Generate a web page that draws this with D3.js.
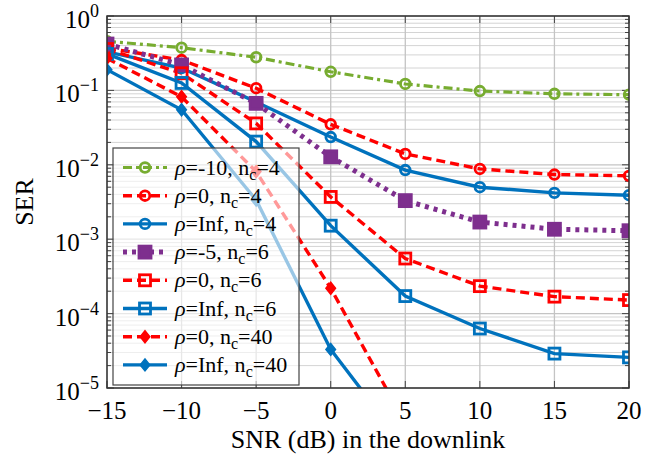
<!DOCTYPE html>
<html><head><meta charset="utf-8">
<script src="https://cdn.jsdelivr.net/npm/d3@7"></script>
<style>body{margin:0;background:#fff}svg{display:block}text{font-family:"Liberation Serif","Times New Roman",serif}</style>
</head><body><svg id="c" width="657" height="460"></svg>
<script>
const snr = [-15, -10, -5, 0, 5, 10, 15, 20];
const serRhoM10Nc4 = [0.457, 0.375, 0.279, 0.178, 0.122, 0.098, 0.090, 0.0875];
const serRho0Nc4   = [0.37, 0.256, 0.107, 0.035, 0.014, 0.0088, 0.0074, 0.0071];
const serRhoInfNc4 = [0.33, 0.20, 0.070, 0.0236, 0.0085, 0.0050, 0.0042, 0.0039];
const serRhoM5Nc6  = [0.42, 0.22, 0.067, 0.0128, 0.0033, 0.0017, 0.00136, 0.0013];
const serRho0Nc6   = [0.36, 0.17, 0.036, 0.0037, 0.00055, 0.000234, 0.000169, 0.000152];
const serRhoInfNc6 = [0.31, 0.126, 0.0205, 0.00152, 0.000172, 0.000063, 0.000029, 0.0000258];
const serRho0Nc40  = [0.27, 0.082, 0.0081, 0.000219, 0.0000034];
const serRhoInfNc40= [0.19, 0.055, 0.00336, 0.000033, 0.0000016];
const xTicks = [-15, -10, -5, 0, 5, 10, 15, 20];
const yTickExps = [0, -1, -2, -3, -4, -5];
const legendRho = ["-10", "0", "Inf", "-5", "0", "Inf", "0", "Inf"];
const legendNc = ["4", "4", "4", "6", "6", "6", "40", "40"];

const series = [
  {y: serRhoM10Nc4, color: "#77AC30", dash: "9,4,3,4", w: 3.2, mark: "circle", fill: "none"},
  {y: serRho0Nc4, color: "#FF0000", dash: "9,5", w: 3.4, mark: "circle", fill: "none"},
  {y: serRhoInfNc4, color: "#0072BD", dash: null, w: 3.4, mark: "circle", fill: "none"},
  {y: serRhoM5Nc6, color: "#7E2F8E", dash: "4,5", w: 5, mark: "square", fill: "#7E2F8E"},
  {y: serRho0Nc6, color: "#FF0000", dash: "9,5", w: 3.4, mark: "square", fill: "none"},
  {y: serRhoInfNc6, color: "#0072BD", dash: null, w: 3.4, mark: "square", fill: "none"},
  {y: serRho0Nc40, color: "#FF0000", dash: "9,5", w: 3.4, mark: "diamond", fill: "#FF0000"},
  {y: serRhoInfNc40, color: "#0072BD", dash: null, w: 3.4, mark: "diamond", fill: "#0072BD"}
];

const W = 657, H = 460;
const m = {l: 107, r: 28, t: 16, b: 72};
const svg = d3.select("#c");
const x = d3.scaleLinear().domain([-15, 20]).range([m.l, W - m.r]);
const y = d3.scaleLog().domain([1e-5, 1]).range([H - m.b, m.t]);

svg.append("defs").append("clipPath").attr("id", "clip")
  .append("rect").attr("x", m.l).attr("y", m.t).attr("width", W - m.l - m.r).attr("height", H - m.t - m.b);

// grid
const g = svg.append("g");
const minor = [];
for (let e = -5; e < 0; e++) for (let k = 2; k <= 9; k++) minor.push(k * Math.pow(10, e));
g.selectAll(".mn").data(minor).enter().append("line")
  .attr("x1", m.l).attr("x2", W - m.r).attr("y1", d => y(d)).attr("y2", d => y(d))
  .attr("stroke", "#d4d4d4").attr("stroke-width", 1);
g.selectAll(".mj").data(yTickExps).enter().append("line")
  .attr("x1", m.l).attr("x2", W - m.r).attr("y1", d => y(Math.pow(10, d))).attr("y2", d => y(Math.pow(10, d)))
  .attr("stroke", "#c4c4c4").attr("stroke-width", 1.3);
g.selectAll(".vx").data(xTicks).enter().append("line")
  .attr("x1", d => x(d)).attr("x2", d => x(d)).attr("y1", m.t).attr("y2", H - m.b)
  .attr("stroke", "#c4c4c4").attr("stroke-width", 1.3);

// ticks (inside)
const tk = svg.append("g").attr("stroke", "#444").attr("stroke-width", 1);
minor.forEach(v => {
  tk.append("line").attr("x1", m.l).attr("x2", m.l + 4).attr("y1", y(v)).attr("y2", y(v));
  tk.append("line").attr("x1", W - m.r - 4).attr("x2", W - m.r).attr("y1", y(v)).attr("y2", y(v));
});
yTickExps.forEach(e => {
  const v = Math.pow(10, e);
  tk.append("line").attr("x1", m.l).attr("x2", m.l + 7).attr("y1", y(v)).attr("y2", y(v));
  tk.append("line").attr("x1", W - m.r - 7).attr("x2", W - m.r).attr("y1", y(v)).attr("y2", y(v));
});
xTicks.forEach(v => {
  tk.append("line").attr("x1", x(v)).attr("x2", x(v)).attr("y1", H - m.b).attr("y2", H - m.b - 7);
  tk.append("line").attr("x1", x(v)).attr("x2", x(v)).attr("y1", m.t).attr("y2", m.t + 7);
});

// series
const plot = svg.append("g").attr("clip-path", "url(#clip)");
const line = d3.line().x((d, i) => x(snr[i])).y(d => y(d));
function drawMark(sel, type, cx, cy, color, fill) {
  if (type === "circle") {
    sel.append("circle").attr("cx", cx).attr("cy", cy).attr("r", 4.8)
      .attr("fill", fill).attr("stroke", color).attr("stroke-width", 2.8);
  } else if (type === "square") {
    const h = fill === "none" ? 5.5 : 6;
    sel.append("rect").attr("x", cx - h).attr("y", cy - h).attr("width", 2 * h).attr("height", 2 * h)
      .attr("fill", fill).attr("stroke", color).attr("stroke-width", 2.8);
  } else {
    const s = 6;
    sel.append("path").attr("d", `M${cx},${cy - s}L${cx + s * 0.8},${cy}L${cx},${cy + s}L${cx - s * 0.8},${cy}Z`)
      .attr("fill", fill).attr("stroke", color).attr("stroke-width", 1.5);
  }
}
series.forEach(s => {
  plot.append("path").datum(s.y).attr("d", line).attr("fill", "none")
    .attr("stroke", s.color).attr("stroke-width", s.w)
    .attr("stroke-dasharray", s.dash);
});
series.forEach(s => {
  const mg = plot.append("g");
  s.y.forEach((v, i) => {
    if (v >= 1e-5) drawMark(mg, s.mark, x(snr[i]), y(v), s.color, s.fill);
  });
});

// frame
svg.append("rect").attr("x", m.l).attr("y", m.t).attr("width", W - m.l - m.r).attr("height", H - m.t - m.b)
  .attr("fill", "none").attr("stroke", "#333").attr("stroke-width", 1.5);

// tick labels
xTicks.forEach(v => {
  svg.append("text").attr("x", x(v)).attr("y", H - m.b + 31).attr("text-anchor", "middle")
    .attr("font-size", 25).attr("fill", "#000")
    .text(v < 0 ? "\u2212" + Math.abs(v) : String(v));
});
yTickExps.forEach(e => {
  const t = svg.append("text").attr("x", m.l - 8).attr("y", y(Math.pow(10, e)) + 12).attr("text-anchor", "end")
    .attr("font-size", 25).attr("fill", "#000");
  t.append("tspan").text("10");
  t.append("tspan").attr("dy", -11).attr("font-size", 18).text(e < 0 ? "\u2212" + Math.abs(e) : String(e));
});

// axis labels
svg.append("text").attr("x", (m.l + W - m.r) / 2).attr("y", 448).attr("text-anchor", "middle")
  .attr("font-size", 26).text("SNR (dB) in the downlink");
svg.append("text").attr("transform", `translate(33,${(m.t + H - m.b) / 2}) rotate(-90)`).attr("text-anchor", "middle")
  .attr("font-size", 26).text("SER");

// legend
const lg = svg.append("g");
lg.append("rect").attr("x", 113).attr("y", 148).attr("width", 186).attr("height", 237)
  .attr("fill", "#fff").attr("fill-opacity", 0.6).attr("stroke", "#444").attr("stroke-width", 1.2);
series.forEach((s, i) => {
  const cy = 167.5 + i * 28.2;
  lg.append("line").attr("x1", 123).attr("x2", 167).attr("y1", cy).attr("y2", cy)
    .attr("stroke", s.color).attr("stroke-width", s.w).attr("stroke-dasharray", s.dash);
  drawMark(lg, s.mark, 145, cy, s.color, s.fill);
  const t = lg.append("text").attr("x", 175).attr("y", cy + 7).attr("font-size", 22);
  t.append("tspan").attr("font-style", "italic").text("\u03C1");
  t.append("tspan").text("=" + legendRho[i] + ", n");
  t.append("tspan").attr("dy", 5).attr("font-size", 16).text("c");
  t.append("tspan").attr("dy", -5).text("=" + legendNc[i]);
});
</script></body></html>
